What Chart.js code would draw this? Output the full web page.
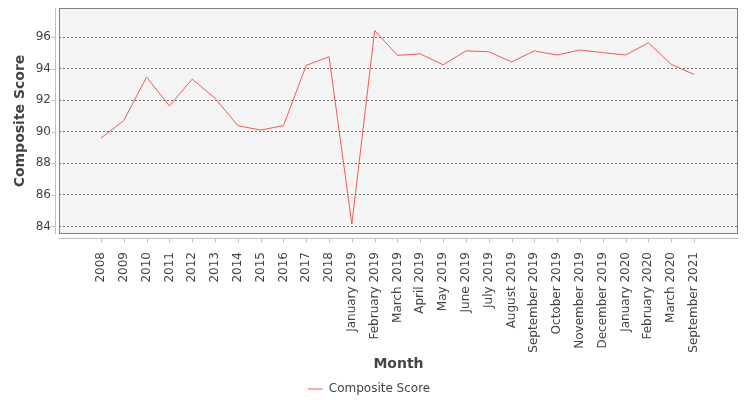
<!DOCTYPE html>
<html>
<head>
<meta charset="utf-8">
<script src="https://cdn.jsdelivr.net/npm/chart.js@4.4.0/dist/chart.umd.min.js"></script>
<style>
  body { margin: 0; background: #fff; }
  #wrap { width: 750px; height: 400px; }
</style>
</head>
<body>
<div id="wrap"><canvas id="chart" width="750" height="400"></canvas></div>
<script>
var labels = ['2008', '2009', '2010', '2011', '2012', '2013', '2014', '2015', '2016', '2017', '2018',
  'January 2019', 'February 2019', 'March 2019', 'April 2019', 'May 2019', 'June 2019', 'July 2019',
  'August 2019', 'September 2019', 'October 2019', 'November 2019', 'December 2019', 'January 2020',
  'February 2020', 'March 2020', 'September 2021'];
var scores = [89.6, 90.71, 93.47, 91.64, 93.34, 92.13, 90.39, 90.11, 90.39, 94.21, 94.76,
  84.15, 96.42, 94.85, 94.94, 94.25, 95.13, 95.08,
  94.43, 95.13, 94.87, 95.19, 95.02, 94.87,
  95.64, 94.28, 93.64];
var yTicks = [84, 86, 88, 90, 92, 94, 96];

var textColor = '#444444';
var font = 'DejaVu Sans';

// plot background, frame and the detached axis lines
var plotDecor = {
  id: 'plotDecor',
  beforeDraw: function(chart) {
    var a = chart.chartArea, c = chart.ctx;
    c.save();
    c.fillStyle = '#f4f4f4';
    c.fillRect(a.left, a.top, a.right - a.left, a.bottom - a.top);
    c.restore();
  },
  afterDraw: function(chart) {
    var a = chart.chartArea, c = chart.ctx;
    var xs = chart.scales.x, ys = chart.scales.y;
    c.save();
    c.strokeStyle = '#808080';
    c.lineWidth = 1;
    c.strokeRect(a.left + 0.5, a.top + 0.5, a.right - a.left - 1, a.bottom - a.top - 1);

    c.strokeStyle = '#c0c0c0';
    c.beginPath();
    var ax = Math.round(a.left - 4) + 0.5;
    c.moveTo(ax, a.top);
    c.lineTo(ax, a.bottom);
    yTicks.forEach(function(v) {
      var py = Math.round(ys.getPixelForValue(v)) + 0.5;
      c.moveTo(ax - 4, py);
      c.lineTo(ax, py);
    });
    var ay = Math.round(a.bottom + 4) + 0.5;
    c.moveTo(a.left, ay);
    c.lineTo(a.right, ay);
    labels.forEach(function(l, i) {
      var px = Math.round(xs.getPixelForValue(i)) + 0.5;
      c.moveTo(px, ay);
      c.lineTo(px, ay + 4);
    });
    c.stroke();
    c.restore();
  }
};

var ctx = document.getElementById('chart').getContext('2d');
var chart = new Chart(ctx, {
  type: 'line',
  data: {
    datasets: [{
      label: 'Composite Score',
      data: labels.map(function(l, i) { return { x: i, y: scores[i] }; }),
      borderColor: '#ff5555',
      backgroundColor: '#ff5555',
      borderWidth: 1,
      pointRadius: 0,
      tension: 0,
      fill: false
    }]
  },
  options: {
    responsive: false,
    animation: false,
    layout: { padding: { top: 8, right: 12, left: 0, bottom: -5 } },
    plugins: {
      tooltip: { enabled: false },
      legend: {
        position: 'bottom',
        labels: {
          usePointStyle: true,
          pointStyle: 'line',
          pointStyleWidth: 15,
          padding: 6,
          color: textColor,
          font: { family: font, size: 12 }
        }
      }
    },
    scales: {
      x: {
        type: 'linear',
        min: -1.84,
        max: 27.93,
        grid: { display: false },
        border: { display: false },
        afterBuildTicks: function(s) {
          s.ticks = labels.map(function(l, i) { return { value: i }; });
        },
        afterFit: function(s) { s.height = 143; },
        ticks: {
          autoSkip: false,
          minRotation: 90,
          maxRotation: 90,
          padding: 10,
          color: textColor,
          font: { family: font, size: 12 },
          callback: function(v) { return labels[v]; }
        },
        title: {
          display: true,
          text: 'Month',
          color: textColor,
          font: { family: font, size: 14, weight: 'bold' },
          padding: { top: 0, bottom: 4 }
        }
      },
      y: {
        min: 83.52,
        max: 97.85,
        afterBuildTicks: function(s) {
          s.ticks = yTicks.map(function(v) { return { value: v }; });
        },
        afterFit: function(s) {
          s.width = 59;
          s.paddingTop = 0;
          s.paddingBottom = 0;
        },
        grid: { color: '#707070', lineWidth: 1, drawTicks: false },
        border: { display: false, dash: [2, 2] },
        ticks: {
          padding: 8,
          color: textColor,
          font: { family: font, size: 12 }
        },
        title: {
          display: true,
          text: 'Composite Score',
          color: textColor,
          font: { family: font, size: 14, weight: 'bold' },
          padding: { top: 12, bottom: 0 }
        }
      }
    }
  },
  plugins: [plotDecor]
});
</script>
</body>
</html>
